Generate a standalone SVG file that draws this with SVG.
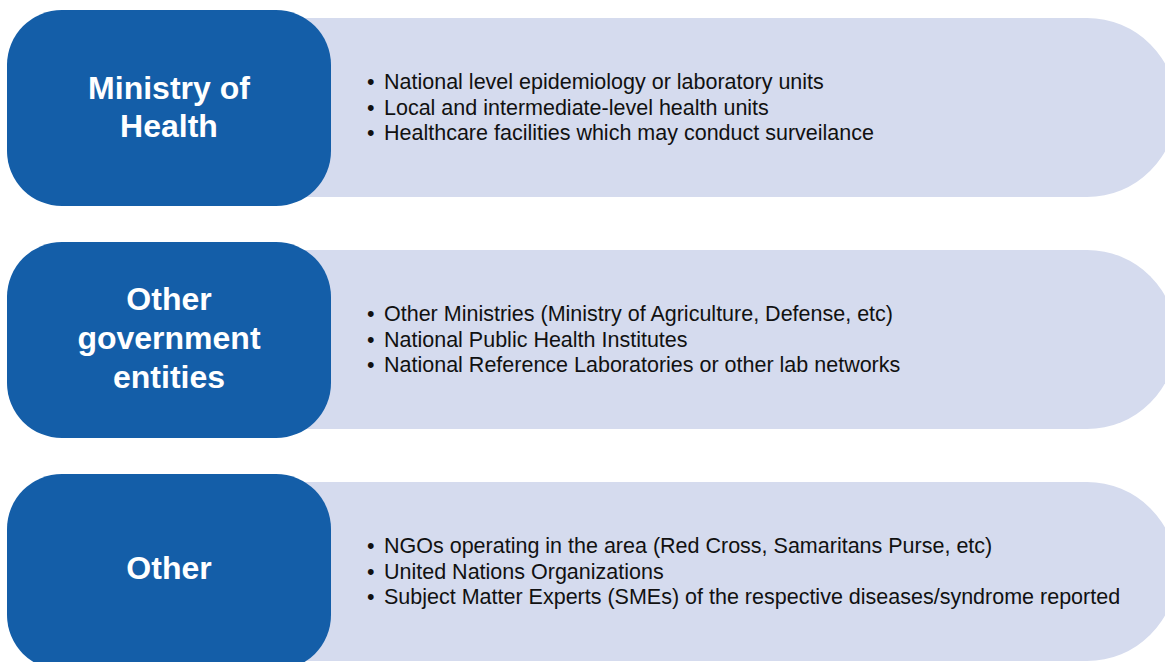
<svg xmlns="http://www.w3.org/2000/svg" width="1165" height="662" viewBox="0 0 1165 662">
  <style>
    .panel { fill: #D5DBEE; }
    .head { fill: #145EA8; }
    .title { font-family: "Liberation Sans", Arial, sans-serif; font-weight: bold; font-size: 32px; fill: #FFFFFF; text-anchor: middle; }
    .item { font-family: "Liberation Sans", Arial, sans-serif; font-size: 21.5px; fill: #111111; }
  </style>
  <rect width="1165" height="662" fill="#FFFFFF"/>

  <!-- Row 1 -->
  <g id="row-ministry">
    <path class="panel" d="M300 18 H1087 A89.5 89.5 0 0 1 1087 197 H300 Z"/>
    <rect class="head" x="7" y="10" width="324" height="196" rx="55" ry="55"/>
    <text class="title" x="169" y="99">Ministry of</text>
    <text class="title" x="169" y="137">Health</text>
    <text class="item" y="89"><tspan x="367">•</tspan><tspan x="384">National level epidemiology or laboratory units</tspan></text>
    <text class="item" y="114.5"><tspan x="367">•</tspan><tspan x="384">Local and intermediate-level health units</tspan></text>
    <text class="item" y="140"><tspan x="367">•</tspan><tspan x="384">Healthcare facilities which may conduct surveilance</tspan></text>
  </g>

  <!-- Row 2 -->
  <g id="row-government">
    <path class="panel" d="M300 250 H1087 A89.5 89.5 0 0 1 1087 429 H300 Z"/>
    <rect class="head" x="7" y="242" width="324" height="196" rx="55" ry="55"/>
    <text class="title" x="169" y="310">Other</text>
    <text class="title" x="169" y="349">government</text>
    <text class="title" x="169" y="388">entities</text>
    <text class="item" y="321"><tspan x="367">•</tspan><tspan x="384">Other Ministries (Ministry of Agriculture, Defense, etc)</tspan></text>
    <text class="item" y="346.5"><tspan x="367">•</tspan><tspan x="384">National Public Health Institutes</tspan></text>
    <text class="item" y="372"><tspan x="367">•</tspan><tspan x="384">National Reference Laboratories or other lab networks</tspan></text>
  </g>

  <!-- Row 3 -->
  <g id="row-other">
    <path class="panel" d="M300 482 H1087 A89.5 89.5 0 0 1 1087 661 H300 Z"/>
    <rect class="head" x="7" y="474" width="324" height="196" rx="55" ry="55"/>
    <text class="title" x="169" y="579">Other</text>
    <text class="item" y="553"><tspan x="367">•</tspan><tspan x="384">NGOs operating in the area (Red Cross, Samaritans Purse, etc)</tspan></text>
    <text class="item" y="578.5"><tspan x="367">•</tspan><tspan x="384">United Nations Organizations</tspan></text>
    <text class="item" y="604"><tspan x="367">•</tspan><tspan x="384">Subject Matter Experts (SMEs) of the respective diseases/syndrome reported</tspan></text>
  </g>

  <g id="connectors"></g>
</svg>
